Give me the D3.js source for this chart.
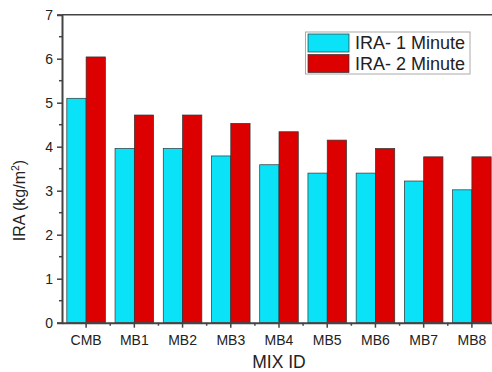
<!DOCTYPE html>
<html>
<head>
<meta charset="utf-8">
<script src="https://cdn.jsdelivr.net/npm/d3@7"></script>
<style>
  html, body { margin: 0; padding: 0; background: #fff; }
  svg { display: block; }
  text { font-family: "Liberation Sans", Arial, sans-serif; fill: #222; }
</style>
</head>
<body>
<svg id="chart" width="492" height="372"></svg>
<script>
// Mix identifiers along the x axis
const mixIds = ["CMB", "MB1", "MB2", "MB3", "MB4", "MB5", "MB6", "MB7", "MB8"];
// Series names and values (kg/m²)
const seriesNames = ["IRA- 1 Minute", "IRA- 2 Minute"];
const ira1Minute = [5.10, 3.96, 3.96, 3.79, 3.59, 3.40, 3.40, 3.22, 3.02];
const ira2Minute = [6.04, 4.72, 4.72, 4.53, 4.34, 4.15, 3.96, 3.77, 3.77];
const yTicks = [0, 1, 2, 3, 4, 5, 6, 7];
const seriesColors = ["#0ae2f8", "#dd0000"];

const svg = d3.select("#chart");
const margin = { left: 62, right: -4, top: 14.7, bottom: 49.3 };
const W = 492, H = 372;
const x0 = margin.left, x1 = W - margin.right;
const yTop = margin.top, yBot = H - margin.bottom;

const x = d3.scaleBand().domain(mixIds).range([x0, x1]).paddingInner(0.2).paddingOuter(0.1);
const xs = d3.scaleBand().domain(seriesNames).range([0, x.bandwidth()]);
const y = d3.scaleLinear().domain([0, 7]).range([yBot, yTop]);

const rows = mixIds.map((id, i) => ({ id, values: [ira1Minute[i], ira2Minute[i]] }));

// Bars
const groups = svg.append("g").selectAll("g").data(rows).join("g")
  .attr("transform", d => `translate(${x(d.id)},0)`);
groups.selectAll("rect").data(d => d.values.map((v, k) => ({ k, v })))
  .join("rect")
  .attr("x", d => xs(seriesNames[d.k]))
  .attr("y", d => y(d.v))
  .attr("width", xs.bandwidth())
  .attr("height", d => yBot - y(d.v))
  .attr("fill", d => seriesColors[d.k])
  .attr("stroke", "#333")
  .attr("stroke-width", 0.7);

// Top frame line
svg.append("line")
  .attr("x1", x0).attr("x2", W).attr("y1", yTop).attr("y2", yTop)
  .attr("stroke", "#444").attr("stroke-width", 1.6);

// Y axis with major ticks and minor ticks at half units
const yAxis = svg.append("g").attr("transform", `translate(${x0},0)`)
  .call(d3.axisLeft(y).tickValues(yTicks).tickSize(5).tickPadding(4).tickFormat(d3.format("d")));
yAxis.select(".domain").attr("stroke", "#444").attr("stroke-width", 2);
yAxis.selectAll(".tick line").attr("stroke", "#444").attr("stroke-width", 1.5);
yAxis.selectAll(".tick text").attr("font-size", 14).attr("fill", "#222")
  .attr("font-family", "Liberation Sans, Arial, sans-serif");
svg.append("g").selectAll("line").data(d3.range(0.5, 7, 1)).join("line")
  .attr("x1", x0 - 3).attr("x2", x0).attr("y1", d => y(d)).attr("y2", d => y(d))
  .attr("stroke", "#444").attr("stroke-width", 1.5);

// X axis with major ticks at category centres and minor ticks between
const xAxis = svg.append("g").attr("transform", `translate(0,${yBot})`)
  .call(d3.axisBottom(x).tickSize(5).tickPadding(7).tickSizeOuter(0));
xAxis.select(".domain").attr("stroke", "#444").attr("stroke-width", 2);
xAxis.selectAll(".tick line").attr("stroke", "#444").attr("stroke-width", 1.5);
xAxis.selectAll(".tick text").attr("font-size", 14).attr("fill", "#222")
  .attr("font-family", "Liberation Sans, Arial, sans-serif");
const step = x.step();
svg.append("g").selectAll("line").data(mixIds.slice(1)).join("line")
  .attr("x1", d => x(d) - step * x.paddingInner() / 2)
  .attr("x2", d => x(d) - step * x.paddingInner() / 2)
  .attr("y1", yBot).attr("y2", yBot + 3)
  .attr("stroke", "#444").attr("stroke-width", 1.5);

// Axis titles
svg.append("text").attr("x", 279).attr("y", 368).attr("text-anchor", "middle")
  .attr("font-size", 17.5).text("MIX ID");
const yl = svg.append("text").attr("transform", "translate(25,200.5) rotate(-90)")
  .attr("text-anchor", "middle").attr("font-size", 16);
yl.append("tspan").text("IRA (kg/m");
yl.append("tspan").attr("dy", -6).attr("font-size", 10.5).text("2");
yl.append("tspan").attr("dy", 6).text(")");

// Legend
const lg = svg.append("g").attr("transform", "translate(305.5,32)");
lg.append("rect").attr("width", 164.5).attr("height", 42)
  .attr("fill", "#fff").attr("stroke", "#aaa").attr("stroke-width", 1);
seriesNames.forEach((name, k) => {
  lg.append("rect").attr("x", 2.5).attr("y", 2 + k * 20.5).attr("width", 41).attr("height", 18)
    .attr("fill", seriesColors[k]).attr("stroke", "#333").attr("stroke-width", 0.7);
  lg.append("text").attr("x", 49.5).attr("y", 17 + k * 20.5).attr("font-size", 18).text(name);
});
</script>
</body>
</html>
